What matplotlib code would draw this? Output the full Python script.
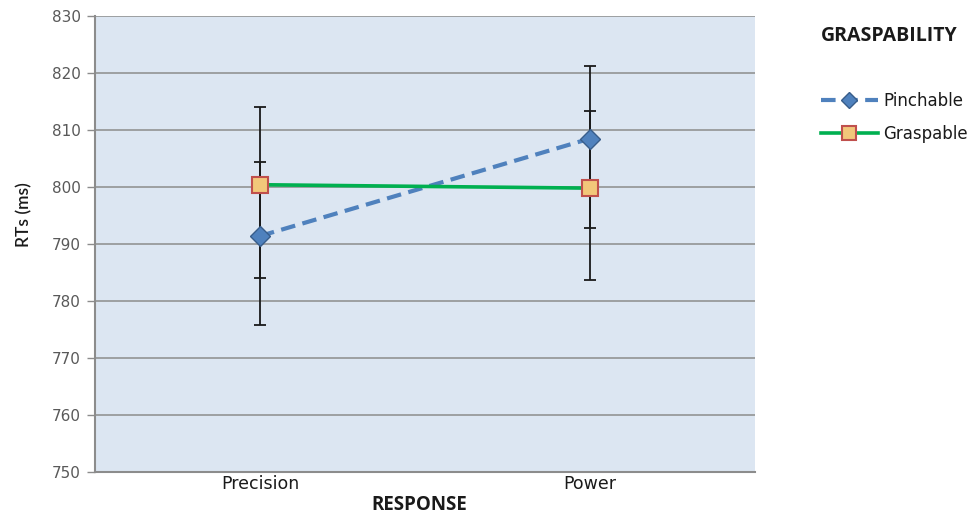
import matplotlib
matplotlib.use("Agg")
import matplotlib.pyplot as plt
import numpy as np

categories = ["Precision", "Power"]
pinch_mean = [791.4, 808.5]
pinch_upper = [804.3, 821.2]
pinch_lower = [775.8, 792.8]
grasp_mean = [800.4, 799.8]
grasp_upper = [814.0, 813.4]
grasp_lower = [784.0, 783.6]
yticks = [750, 760, 770, 780, 790, 800, 810, 820, 830]

fig = plt.figure(figsize=(9.79, 5.14), dpi=100)
ax = fig.add_axes([95/979, 1-472/514, (755-95)/979, (472-16)/514])
ax.set_facecolor("#dce6f2")

x = np.arange(len(categories)) + 0.5
ax.set_xlim(0, 2)
ax.set_ylim(750, 830)
ax.set_yticks(yticks)
ax.grid(axis="y", color="#8c8c8c", linewidth=1.1)
ax.set_axisbelow(True)

def err(mean, up, lo):
    return [np.array(mean) - np.array(lo), np.array(up) - np.array(mean)]

ax.errorbar(x, pinch_mean, yerr=err(pinch_mean, pinch_upper, pinch_lower),
            fmt="none", ecolor="#1a1a1a", elinewidth=1.3, capsize=4, capthick=1.3, zorder=2)
ax.errorbar(x, grasp_mean, yerr=err(grasp_mean, grasp_upper, grasp_lower),
            fmt="none", ecolor="#1a1a1a", elinewidth=1.3, capsize=4, capthick=1.3, zorder=2)

l1, = ax.plot(x, pinch_mean, linestyle=(0, (3.5, 1.8)), color="#4f81bd", linewidth=3,
              marker="D", markersize=10, markerfacecolor="#4f81bd",
              markeredgecolor="#385d8a", markeredgewidth=1, zorder=3, label="Pinchable")
l2, = ax.plot(x, grasp_mean, linestyle="-", color="#00b050", linewidth=2.6,
              marker="s", markersize=12, markerfacecolor="#f2c77a",
              markeredgecolor="#c0504d", markeredgewidth=1.5, zorder=3, label="Graspable")

ax.set_xticks(x)
ax.set_xticklabels(categories, fontsize=12.5, color="#1a1a1a")
ax.tick_params(axis="x", length=0, pad=2)
ax.tick_params(axis="y", length=6, width=1, color="#8c8c8c", labelsize=11, labelcolor="#595959", pad=4)

for s in ["top", "right"]:
    ax.spines[s].set_visible(False)
ax.spines["left"].set_color("#8c8c8c")
ax.spines["left"].set_linewidth(1.5)
ax.spines["bottom"].set_color("#8c8c8c")
ax.spines["bottom"].set_linewidth(1.5)

fig.text(24/979, 1-215/514, "RTs (ms)", rotation=90, ha="center", va="center",
         fontsize=12.5, family="Lato", fontweight="semibold", color="#1a1a1a")
fig.text(419/979, 1-505/514, "RESPONSE", ha="center", va="center",
         fontsize=13.5, family="Open Sans", fontweight="bold", color="#1a1a1a")
fig.text(889/979, 1-36/514, "GRASPABILITY", ha="center", va="center",
         fontsize=14, family="Open Sans", fontweight="bold", color="#1a1a1a")

leg = fig.legend(handles=[l1, l2], loc="upper left", bbox_to_anchor=(821/979, 1-92/514),
                 frameon=False, fontsize=12, handlelength=3.4, handletextpad=0.35,
                 labelspacing=0.9, borderpad=0, borderaxespad=0, markerscale=0.85)
for t in leg.get_texts():
    t.set_color("#1a1a1a")

fig.savefig("out.png", dpi=100)
